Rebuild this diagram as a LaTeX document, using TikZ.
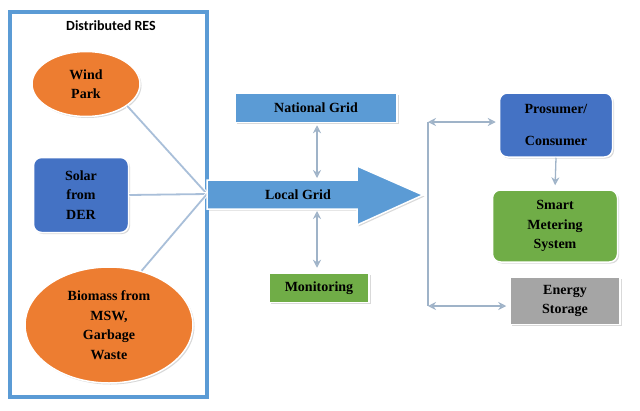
\documentclass[tikz,border=0pt]{standalone}
\usepackage{fontspec}
\setmainfont{Liberation Serif}
\newfontfamily\calib{Carlito}
\usepackage{tikz}
\usetikzlibrary{positioning, arrows.meta, shapes.geometric, shadows}
\definecolor{resblue}{HTML}{5B9BD5}
\definecolor{deepblue}{HTML}{4472C4}
\definecolor{resorange}{HTML}{ED7D31}
\definecolor{resgreen}{HTML}{70AD47}
\definecolor{resgray}{HTML}{A5A5A5}
\definecolor{linkc}{HTML}{A9BFD9}
\definecolor{arrowc}{HTML}{9FB3C8}

\begin{document}
\begin{tikzpicture}[x=1pt,y=-1pt,>={Stealth[fill=white,length=8pt,width=8pt]},
    box/.style={draw=white,line width=1.5pt,font=\bfseries\fontsize{14}{19.5}\selectfont,text=black,align=center,inner sep=1pt,
        drop shadow={opacity=.3,shadow xshift=1.5pt,shadow yshift=-1.5pt}},
    blob/.style={box,ellipse,fill=resorange},
    rbox/.style={box,rounded corners=8pt},
    link/.style={draw=linkc,line width=1.8pt,preaction={draw=white,line width=3.6pt}},
    dlink/.style={<->,draw=arrowc,line width=1.3pt},
    slink/.style={->,draw=arrowc,line width=1.3pt}]
    \useasboundingbox (0,0) rectangle (640,410);
    \draw[resblue,line width=4pt,fill=white,drop shadow={opacity=.25,shadow xshift=2pt,shadow yshift=-2pt}] (10,12) rectangle (207,397);
    \node[font=\calib\bfseries\fontsize{14}{16}\selectfont] (res) at (111,26) {Distributed RES};

    \node[blob,minimum width=108,minimum height=65] (wind) at (86,84) {Wind\\Park};
    \node[rbox,fill=deepblue,minimum width=95,minimum height=75] (solar) at (81,195) {Solar\\from\\DER};
    \node[blob,minimum width=168,minimum height=116] (bio) at (109,325) {Biomass from\\MSW,\\Garbage\\Waste};

    \coordinate (hub) at (207,194);
    \draw[link] (wind.-28) -- (hub);
    \draw[link] (solar.east) -- (hub);
    \draw[link] (bio.59) -- (hub);

    \draw[draw=white,line width=1.5pt,fill=resblue,drop shadow={opacity=.3,shadow xshift=1.5pt,shadow yshift=-1.5pt}]
        (207,180) -- (357,180) -- (357,166) -- (423,195) -- (357,225) -- (357,209) -- (207,209) -- cycle;
    \node[font=\bfseries\fontsize{14}{16}\selectfont,text=black] (lgrid) at (298,195) {Local Grid};
    \coordinate (shafttop) at (317,180);
    \coordinate (shaftbot) at (317,209);

    \node[box,fill=resblue,minimum width=162,minimum height=29] (natgrid) at (316,108) {National Grid};
    \node[box,fill=resgreen,minimum width=100,minimum height=29] (monitor) at (319,288) {Monitoring};
    \draw[dlink,shorten <=2pt,shorten >=2pt] (shafttop |- natgrid.south) -- (shafttop);
    \draw[dlink,shorten <=2pt,shorten >=5pt] (shaftbot) -- (shaftbot |- monitor.north);

    \node[rbox,fill=deepblue,minimum width=113,minimum height=64] (prosumer) at (556,125) {Prosumer/\\[12pt]Consumer};
    \node[rbox,fill=resgreen,minimum width=125,minimum height=72] (meter) at (555,226) {Smart\\Metering\\System};
    \node[box,fill=resgray,minimum width=110,minimum height=47] (storage) at (565,301) {Energy\\Storage};

    \coordinate (bustop) at (428,122);
    \coordinate (busbot) at (428,306);
    \draw[arrowc,line width=1.3pt] (bustop) -- (busbot);
    \draw[dlink,shorten >=3pt] (bustop) -- (bustop -| prosumer.west);
    \draw[dlink,shorten >=3pt] (busbot) -- (busbot -| storage.west);
    \draw[slink,shorten >=4pt] (prosumer.south) -- (meter.north);
\end{tikzpicture}
\end{document}
